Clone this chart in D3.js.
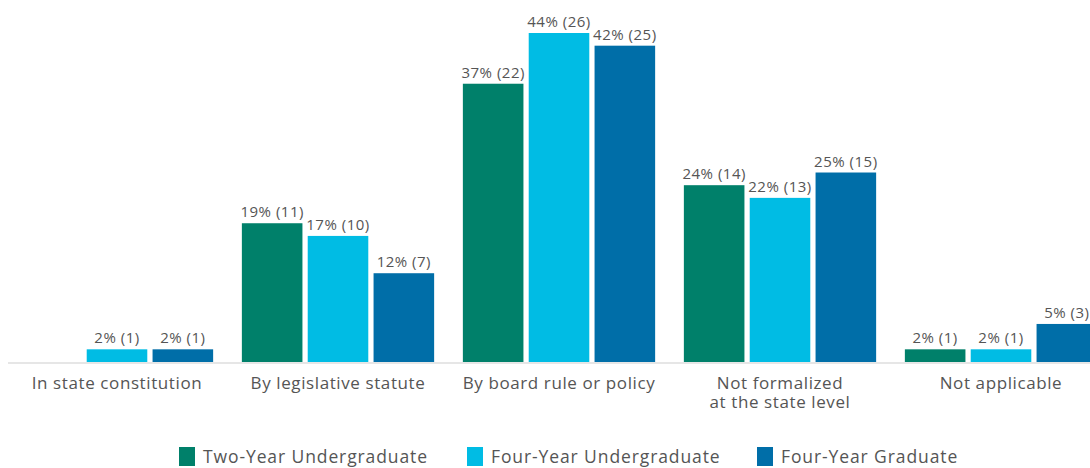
<!DOCTYPE html>
<html>
  <head>
    <script src="https://cdn.jsdelivr.net/npm/d3@7"></script>
    <style>
      body { margin: 0; background: #fff; }
      svg { display: block; font-family: "Open Sans", sans-serif; }
    </style>
  </head>
  <body>
    <svg id="chart"></svg>
    <script>
      // data
      const categories = [
        ["In state constitution"],
        ["By legislative statute"],
        ["By board rule or policy"],
        ["Not formalized", "at the state level"],
        ["Not applicable"]
      ];
      const seriesNames = ["Two-Year Undergraduate", "Four-Year Undergraduate", "Four-Year Graduate"];
      const seriesColors = ["#00806a", "#00bce4", "#006ea8"];
      const twoYearPct = [0, 18.6, 37.3, 23.7, 1.7];
      const fourYearPct = [1.7, 16.9, 44.1, 22.0, 1.7];
      const gradPct = [1.7, 11.9, 42.4, 25.4, 5.1];
      const twoYearLabels = [null, "19% (11)", "37% (22)", "24% (14)", "2% (1)"];
      const fourYearLabels = ["2% (1)", "17% (10)", "44% (26)", "22% (13)", "2% (1)"];
      const gradLabels = ["2% (1)", "12% (7)", "42% (25)", "25% (15)", "5% (3)"];

      const width = 1090, height = 468;
      const baseline = 362;

      const svg = d3.select("#chart").attr("width", width).attr("height", height);

      const keys = categories.map(c => c.join(" "));
      const rows = keys.map((k, i) => ({
        key: k,
        lines: categories[i],
        vals: [
          { s: 0, v: twoYearPct[i], label: twoYearLabels[i] },
          { s: 1, v: fourYearPct[i], label: fourYearLabels[i] },
          { s: 2, v: gradPct[i], label: gradLabels[i] }
        ]
      }));

      const x0 = d3.scaleBand().domain(keys).range([6.5, 1111.5]).paddingInner(0.13).paddingOuter(0.065);
      const x1 = d3.scaleBand().domain([0, 1, 2]).range([0, x0.bandwidth()]).paddingInner(0.08);
      const y = d3.scaleLinear().domain([0, 44.1]).range([baseline, 33]);

      // baseline rule
      svg.append("line")
        .attr("x1", 8).attr("x2", width)
        .attr("y1", baseline + 1).attr("y2", baseline + 1)
        .attr("stroke", "#e6e6e6").attr("stroke-width", 2);

      const groups = svg.selectAll("g.grp").data(rows).enter().append("g")
        .attr("class", "grp")
        .attr("transform", d => `translate(${x0(d.key)},0)`);

      groups.selectAll("rect").data(d => d.vals.filter(v => v.v > 0)).enter().append("rect")
        .attr("x", d => x1(d.s))
        .attr("width", x1.bandwidth())
        .attr("y", d => y(d.v))
        .attr("height", d => baseline - y(d.v))
        .attr("fill", d => seriesColors[d.s]);

      groups.selectAll("text.val").data(d => d.vals.filter(v => v.label)).enter().append("text")
        .attr("class", "val")
        .attr("x", d => x1(d.s) + x1.bandwidth() / 2)
        .attr("y", d => y(d.v) - 6)
        .attr("text-anchor", "middle")
        .attr("font-size", 15)
        .attr("letter-spacing", 0.5)
        .attr("fill", "#555")
        .text(d => d.label);

      // category labels
      groups.append("text")
        .attr("x", x0.bandwidth() / 2)
        .attr("y", 389)
        .attr("text-anchor", "middle")
        .attr("font-size", 17)
        .attr("letter-spacing", 0.6)
        .attr("fill", "#555")
        .selectAll("tspan").data(d => d.lines).enter().append("tspan")
        .attr("x", x0.bandwidth() / 2)
        .attr("dy", (d, i) => i === 0 ? 0 : 19)
        .text(d => d);

      // legend
      const legendX = [179, 467, 757];
      const legend = svg.selectAll("g.leg").data(seriesNames).enter().append("g")
        .attr("class", "leg")
        .attr("transform", (d, i) => `translate(${legendX[i]},447)`);
      legend.append("rect")
        .attr("width", 16).attr("height", 19)
        .attr("fill", (d, i) => seriesColors[i]);
      legend.append("text")
        .attr("x", 24).attr("y", 16)
        .attr("font-size", 17.5)
        .attr("letter-spacing", 0.9)
        .attr("fill", "#555")
        .text(d => d);
    </script>
  </body>
</html>
